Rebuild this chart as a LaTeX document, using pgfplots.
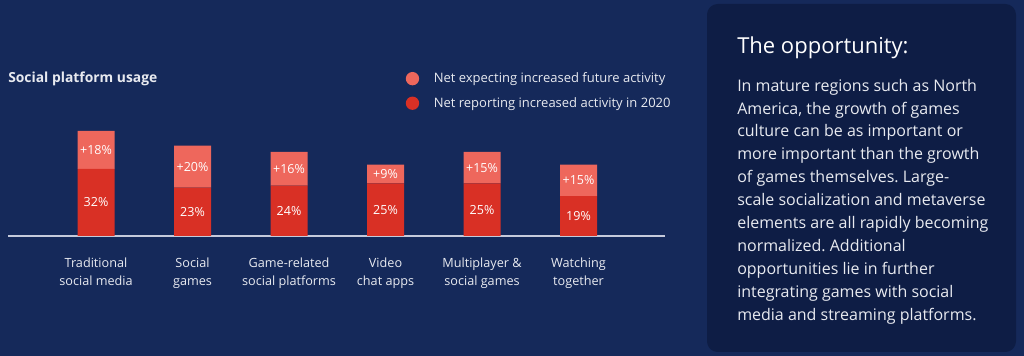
\documentclass[border=0pt]{standalone}
\usepackage{fontspec}
\setmainfont{Open Sans}
\usepackage{pgfplots}
\pgfplotsset{compat=1.18}
\frenchspacing
\definecolor{bg}{HTML}{15295A}
\definecolor{panel}{HTML}{0E1D45}
\definecolor{redD}{HTML}{D93025}
\definecolor{redL}{HTML}{EE675C}
\definecolor{txt}{HTML}{E8EAF0}
\definecolor{axisc}{HTML}{C5CADB}
\begin{document}
\begin{tikzpicture}[x=1pt,y=1pt]
\fill[bg] (0,0) rectangle (768,267);
\fill[panel, rounded corners=8pt] (530.25,3) rectangle (762,264);
\node[anchor=west, text=white, font=\fontsize{16.5}{19}\selectfont, inner sep=0] at (552.75,231) {The opportunity:};
\node[anchor=north west, inner sep=0, align=left, text=txt, font=\fontsize{12}{17.2}\selectfont] at (552.75,208) {In mature regions such as North\\
America, the growth of games\\
culture can be as important or\\
more important than the growth\\
of games themselves. Large-\\
scale socialization and metaverse\\
elements are all rapidly becoming\\
normalized. Additional\\
opportunities lie in further\\
integrating games with social\\
media and streaming platforms.};
\node[anchor=west, inner sep=0, text=txt, font=\fontsize{10.4}{12}\selectfont\bfseries] at (6,207.5) {Social platform usage};
\begin{axis}[
  at={(6pt,90pt)}, anchor=south west,
  scale only axis, width=492.75pt, height=94.5pt,
  xmin=-0.912, xmax=5.896, ymin=0, ymax=60,
  ybar stacked, bar width=27.75pt,
  axis x line=bottom, axis y line=none,
  axis line style={axisc, line width=1pt, -},
  xtick={0,1,2,3,4,5},
  xticklabels={Traditional\\social media, Social\\games, Game-related\\social platforms, Video\\chat apps, Multiplayer \&\\social games, Watching\\together},
  major tick length=0pt,
  xticklabel style={align=center, text=txt, font=\fontsize{9.5}{13.5}\selectfont, yshift=-12.75pt},
  ytick=\empty,
  /pgf/number format/assume math mode=true,
  visualization depends on=rawy \as \rawy,
  every node near coord/.append style={anchor=center, text=white, font=\fontsize{9.4}{10}\selectfont},
  legend style={at={(axis description cs:0.599,1.33)}, anchor=north west, draw=none, fill=none, text=txt, font=\fontsize{9.75}{11}\selectfont, row sep=7.5pt, nodes={inner sep=1pt}},
  legend cell align=left,
  reverse legend,
]
\addplot[fill=redD, draw=none, nodes near coords={\pgfmathprintnumber{\rawy}\%},
  legend image code/.code={\fill[redD] (0pt,0pt) circle (5pt);}]
  coordinates {(0,32) (1,23) (2,24) (3,25) (4,25) (5,19)};
\addlegendentry{\hspace{10pt}Net reporting increased activity in 2020}
\addplot[fill=redL, draw=none, nodes near coords={+\pgfmathprintnumber{\rawy}\%},
  legend image code/.code={\fill[redL] (0pt,0pt) circle (5pt);}]
  coordinates {(0,18) (1,20) (2,16) (3,9) (4,15) (5,15)};
\addlegendentry{\hspace{10pt}Net expecting increased future activity}
\end{axis}
\end{tikzpicture}
\end{document}
